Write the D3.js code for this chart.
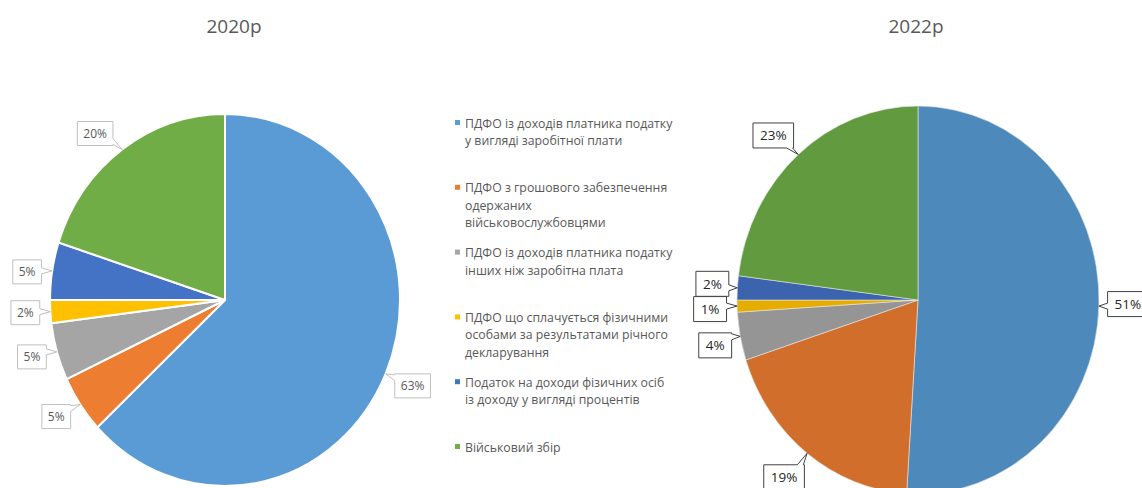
<!DOCTYPE html>
<html>
<head>
<meta charset="utf-8">
<script src="https://cdn.jsdelivr.net/npm/d3@7"></script>
<style>
  html, body { margin: 0; padding: 0; background: #fff; }
  svg { display: block; }
</style>
</head>
<body>
<svg id="chart" width="1142" height="488"></svg>
<script>
// Revenue structure: personal income tax components, two years
const categories = [
  "ПДФО із доходів платника податку\nу вигляді заробітної плати",
  "ПДФО з грошового забезпечення\nодержаних\nвійськовослужбовцями",
  "ПДФО із доходів платника податку\nінших ніж заробітна плата",
  "ПДФО що сплачується фізичними\nособами за результатами річного\nдекларування",
  "Податок на доходи фізичних осіб\nіз доходу у вигляді процентів",
  "Військовий збір"
];
const years = ["2020р", "2022р"];
const share2020 = [63, 5, 5, 2, 5, 20];
const share2022 = [51, 19, 4, 1, 2, 23];

// Palettes (second chart uses the darker shade set)
const colors2020 = ["#5B9BD5", "#ED7D31", "#A5A5A5", "#FFC000", "#4472C4", "#70AD47"];
const colors2022 = ["#4E89BC", "#D16E2B", "#959595", "#E6AC00", "#3B63AE", "#629A3F"];

const svg = d3.select("#chart");

const charts = [
  {
    title: years[0], values: share2020, colors: colors2020,
    cx: 225, cy: 300, rx: 175, ry: 186, titleX: 234, titleY: 33,
    sep: 2, sepColor: "#fff",
    labelFont: 12, labelColor: "#595959", boxStroke: "#BFBFBF", padX: 6, halfH: 12,
    nudges: [[27, 12], [-24, 12], [-25, 5], [-25, 1], [-25, 1], [-27, -16]]
  },
  {
    title: years[1], values: share2022, colors: colors2022,
    cx: 918, cy: 300, rx: 181, ry: 194, titleX: 916, titleY: 33,
    sep: 0.6, sepColor: "#e8e8e8",
    labelFont: 13.5, labelColor: "#262626", boxStroke: "#404040", padX: 7, halfH: 12.5,
    nudges: [[29, -2], [-23, 24], [-25, 9], [-27, 3], [-25, -4], [-25, -19]]
  }
];

const pie = d3.pie().sort(null).value(d => d);

// Callout box with a small pointer towards (tx, ty)
function calloutPath(x0, y0, x1, y1, tx, ty) {
  const w = 3;
  const dl = x0 - tx, dr = tx - x1, dt = y0 - ty, db = ty - y1;
  const m = Math.max(dl, dr, dt, db);
  const p = d3.path();
  const cy = Math.min(Math.max(ty, y0 + w + 1), y1 - w - 1);
  const cx = Math.min(Math.max(tx, x0 + w + 1), x1 - w - 1);
  p.moveTo(x0, y0);
  if (m === dt) { p.lineTo(cx - w, y0); p.lineTo(tx, ty); p.lineTo(cx + w, y0); }
  p.lineTo(x1, y0);
  if (m === dr) { p.lineTo(x1, cy - w); p.lineTo(tx, ty); p.lineTo(x1, cy + w); }
  p.lineTo(x1, y1);
  if (m === db) { p.lineTo(cx + w, y1); p.lineTo(tx, ty); p.lineTo(cx - w, y1); }
  p.lineTo(x0, y1);
  if (m === dl) { p.lineTo(x0, cy + w); p.lineTo(tx, ty); p.lineTo(x0, cy - w); }
  p.closePath();
  return p.toString();
}

charts.forEach(c => {
  svg.append("text")
    .attr("x", c.titleX).attr("y", c.titleY)
    .attr("text-anchor", "middle")
    .attr("font-family", "'Open Sans', 'Noto Sans', sans-serif")
    .attr("font-size", 19)
    .attr("fill", "#595959")
    .text(c.title);

  const arcs = pie(c.values);
  const arc = d3.arc().innerRadius(0).outerRadius(c.rx);

  const g = svg.append("g")
    .attr("transform", `translate(${c.cx},${c.cy}) scale(1,${c.ry / c.rx})`);

  g.selectAll("path")
    .data(arcs)
    .join("path")
    .attr("d", arc)
    .attr("fill", (d, i) => c.colors[i])
    .attr("stroke", c.sepColor)
    .attr("stroke-width", c.sep)
    .attr("stroke-linejoin", "round")
    .style("vector-effect", "non-scaling-stroke");

  const lg = svg.append("g");
  arcs.forEach((d, i) => {
    const a = (d.startAngle + d.endAngle) / 2;
    const ex = c.cx + c.rx * Math.sin(a);
    const ey = c.cy - c.ry * Math.cos(a);
    const bx = ex + c.nudges[i][0];
    const by = ey + c.nudges[i][1];
    const box = lg.append("path");
    const t = lg.append("text")
      .attr("x", bx).attr("y", by)
      .attr("text-anchor", "middle")
      .attr("dominant-baseline", "central")
      .attr("font-family", "'Open Sans', 'Noto Sans', sans-serif")
      .attr("font-size", c.labelFont)
      .attr("fill", c.labelColor)
      .text(`${d.data}%`);
    const tw = t.node().getComputedTextLength();
    const hw = tw / 2 + c.padX, hh = c.halfH;
    box.attr("d", calloutPath(bx - hw, by - hh, bx + hw, by + hh, ex, ey))
      .attr("fill", "#fff")
      .attr("stroke", c.boxStroke)
      .attr("stroke-width", 1);
  });
});

// Legend
const legend = svg.append("g");
categories.forEach((name, i) => {
  const y0 = 123 + i * 64.8;
  legend.append("rect")
    .attr("x", 455).attr("y", y0 - 3)
    .attr("width", 5).attr("height", 5)
    .attr("fill", colors2020[i]);
  const t = legend.append("text")
    .attr("font-family", "'Open Sans', 'Noto Sans', sans-serif")
    .attr("font-size", 12.3)
    .attr("fill", "#595959");
  name.split("\n").forEach((line, j) => {
    t.append("tspan")
      .attr("x", 465)
      .attr("y", y0 + j * 17.5)
      .attr("dominant-baseline", "central")
      .text(line);
  });
});
</script>
</body>
</html>
